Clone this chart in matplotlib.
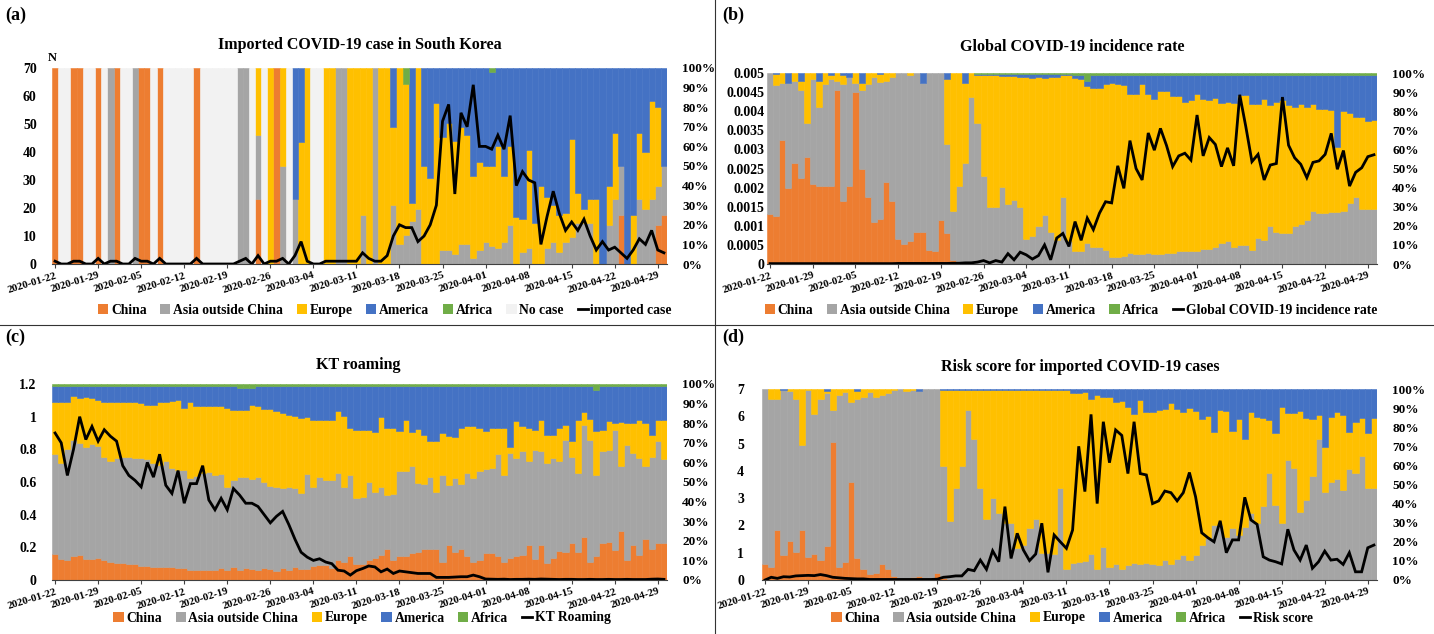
import numpy as np
import matplotlib
matplotlib.use('Agg')
import matplotlib.pyplot as plt
from matplotlib.patches import Patch
from matplotlib.lines import Line2D

plt.rcParams['font.family'] = 'Liberation Serif'
plt.rcParams['font.weight'] = 'bold'

COLORS = {'China': '#ED7D31', 'Asia outside China': '#A5A5A5', 'Europe': '#FFC000',
          'America': '#4472C4', 'Africa': '#70AD47', 'No case': '#F2F2F2'}

# 100 days, 2020-01-22 .. 2020-04-30
days = np.arange(100)
date_labels = ['2020-01-22', '2020-01-29', '2020-02-05', '2020-02-12', '2020-02-19',
               '2020-02-26', '2020-03-04', '2020-03-11', '2020-03-18', '2020-03-25',
               '2020-04-01', '2020-04-08', '2020-04-15', '2020-04-22', '2020-04-29']

# ---------------- (a) imported cases, share by origin (%) ----------------
china_a = [100, 0, 0, 100, 100, 0, 0, 100, 0, 0,
           100, 0, 0, 0, 100, 100, 0, 100, 0, 0,
           0, 0, 0, 100, 0, 0, 0, 0, 0, 0,
           0, 0, 0, 33, 0, 0, 100, 0, 0, 0] + [0] * 50 + \
          [0, 0, 25, 0, 0, 0, 0, 0, 20, 25]
asia_a = [0, 0, 0, 0, 0, 0, 0, 0, 0, 100,
          0, 0, 0, 100, 0, 0, 0, 0, 0, 0,
          0, 0, 0, 0, 0, 0, 0, 0, 0, 0,
          100, 100, 0, 33, 0, 0, 0, 50, 0, 33,
          0, 0, 0, 0, 0, 0, 100, 100, 0, 0,
          25, 0, 100, 0, 0, 30, 10, 15, 22, 28,
          0, 0, 0, 7, 7, 5, 10, 10, 3, 7,
          11, 9, 8, 11, 20, 0, 6, 8, 0, 0,
          8, 11, 6, 11, 14, 21, 21, 21, 0, 0,
          20, 33, 25, 0, 0, 33, 28, 33, 20, 25]
europe_a = [0] * 30 + \
           [0, 0, 0, 34, 0, 100, 0, 50, 0, 0,
            62, 100, 0, 0, 100, 100, 0, 0, 100, 100,
            75, 100, 0, 100, 100, 40, 90, 77, 9, 72,
            50, 44, 82, 58, 65, 58, 60, 56, 42, 45,
            39, 41, 52, 34, 40, 24, 17, 50, 21, 40,
            26, 19, 19, 15, 50, 15, 7, 12, 33, 0,
            20, 34, 0, 0, 25, 34, 29, 50, 40, 0]
america_a = [0] * 30 + \
            [0, 0, 0, 0, 0, 0, 0, 0, 0, 67,
             38, 0, 0, 0, 0, 0, 0, 0, 0, 0,
             0, 0, 0, 0, 0, 30, 0, 0, 69, 0,
             50, 56, 18, 35, 28, 37, 30, 34, 55, 48,
             50, 48, 40, 55, 40, 76, 77, 42, 79, 60,
             66, 70, 75, 74, 36, 64, 72, 67, 67, 100,
             60, 33, 50, 100, 75, 33, 43, 17, 20, 50]
africa_a = [0] * 50 + [0, 0, 0, 0, 0, 0, 0, 8, 0, 0] + [0] * 10 + \
           [0, 2, 0, 0, 0, 0, 0, 0, 0, 0] + [0] * 20
nocase_a = [0, 100, 100, 0, 0, 100, 100, 0, 100, 0,
            0, 100, 100, 0, 0, 0, 100, 0, 100, 100,
            100, 100, 100, 0, 100, 100, 100, 100, 100, 100,
            0, 0, 100, 0, 100, 0, 0, 0, 100, 0,
            0, 0, 100, 100, 0, 0, 0, 0, 0, 0] + [0] * 50
imported_a = [1, 0, 0, 1, 1, 0, 0, 2, 0, 1,
              1, 0, 0, 2, 1, 1, 0, 2, 0, 0,
              0, 0, 0, 2, 0, 0, 0, 0, 0, 0,
              1, 2, 0, 3, 0, 1, 1, 2, 0, 3,
              8, 1, 0, 0, 1, 1, 1, 1, 1, 1,
              4, 2, 1, 1, 3, 10, 14, 13, 13, 8,
              10, 14, 21, 51, 57, 25, 54, 49, 64, 42,
              42, 41, 46, 41, 53, 28, 33, 30, 29, 7,
              17, 26, 18, 12, 15, 12, 16, 10, 5, 8,
              5, 6, 4, 2, 5, 9, 7, 12, 5, 4]

# ---------------- (b) global incidence, cumulative tops of each region (%) ----------------
china_top_b = [26, 25, 65, 40, 53, 45, 56, 42, 41, 41,
               41, 91, 33, 41, 90, 50, 35, 22, 23.5, 43,
               33, 13, 10.4, 12, 16.5, 16.5, 7.5, 6.6, 23, 16,
               2] + [0] * 69
asia_top_b = [100, 93.5, 95, 95, 96, 91, 74, 97, 82, 94,
              97, 96, 94, 98, 95, 91, 94, 98, 95.5, 96,
              98, 100, 100, 99, 100, 95, 100, 100, 100, 63,
              28, 41, 53, 87.5, 74, 46, 30, 30, 40.5, 31.5,
              33.5, 30, 13, 14.5, 19.7, 25.4, 17, 12.7, 35, 12,
              6.6, 6.6, 11, 9, 9, 7.5, 3.6, 3.6, 4, 5.7,
              5.4, 5.4, 6, 5.4, 5.4, 6, 6, 6.6, 6.6, 6.6,
              7, 7.8, 7.8, 9, 11, 12, 9, 10, 10, 7.5,
              13.5, 12.7, 20, 17, 16, 16, 20, 21, 23, 27.5,
              26.6, 26.6, 27, 27, 28, 32, 35, 29, 29, 29]
europe_top_b = [100, 99.5, 100, 95, 100, 96, 100, 100, 96, 100,
                99, 100, 99, 98, 100, 95, 100, 100, 99.5, 100,
                100, 100, 100, 100, 100, 95, 100, 100, 100, 97,
                100, 100, 95, 100, 99, 99, 99, 99, 98.5, 98.5,
                98.5, 98, 98, 97.5, 97.7, 97.4, 98, 97.7, 98.8, 98.8,
                97.5, 97, 93, 92, 92, 94.5, 95, 94, 93.5, 89,
                89, 94, 89, 86.6, 90.6, 90.6, 88, 88, 85, 85.7,
                89, 86.6, 85.7, 87, 84.5, 85, 84.5, 88.7, 88.7, 83.6,
                84, 86.6, 83, 85, 85.7, 83, 82, 84, 82, 84,
                81.4, 81.4, 80.5, 61, 80, 79, 77, 77, 75, 75.6]
america_top_b = [100] * 34 + [99.7] * 16 + [99, 99, 96] + [99] * 47
incidence_b = [0.1e-4] * 21 + [0.15e-4] * 9 + \
              [0.2e-4, 0.2e-4, 0.3e-4, 0.3e-4, 0.5e-4, 0.9e-4, 0.3e-4, 0.9e-4, 0.5e-4, 2.7e-4,
               1.1e-4, 3.1e-4, 2.4e-4, 1.3e-4, 2.2e-4, 5.0e-4, 1.1e-4, 6.8e-4, 8.0e-4, 4.6e-4,
               11.1e-4, 6.2e-4, 12e-4, 9e-4, 13.3e-4, 16.3e-4, 16e-4, 25.7e-4, 19.8e-4, 32.3e-4,
               25e-4, 22e-4, 34.3e-4, 29.8e-4, 35.5e-4, 31e-4, 25.5e-4, 28.3e-4, 29e-4, 27.2e-4,
               39e-4, 28.3e-4, 33.1e-4, 31.3e-4, 25.5e-4, 30.4e-4, 25.7e-4, 44.3e-4, 35.9e-4, 26.8e-4,
               28.7e-4, 22e-4, 25.9e-4, 26.3e-4, 43.7e-4, 31.1e-4, 27.8e-4, 26.1e-4, 22.6e-4, 26.6e-4,
               27e-4, 28.7e-4, 34.2e-4, 24.8e-4, 29.7e-4, 20.4e-4, 24e-4, 25.2e-4, 28.1e-4, 28.6e-4]

# ---------------- (c) KT roaming, cumulative tops (%) ----------------
china_top_c = [13.3, 10.7, 10, 12, 13, 10.5, 10.5, 11, 10, 9,
               8.5, 8.5, 8, 8, 7, 7, 6.5, 6.5, 6.5, 6.8,
               6, 6, 5, 5, 5, 5, 5, 6, 5, 6.5,
               5, 6, 5.5, 5, 6, 5.5, 4.5, 6, 5, 6.5,
               5.5, 5.5, 7, 7.7, 7.7, 6, 10, 9, 12, 8,
               8, 10, 11, 12.8, 16, 10, 12, 12.3, 13.6, 14.5,
               15.7, 16, 16, 9.4, 18, 14.5, 16, 12, 9.4, 10,
               13.6, 14, 12, 9.4, 11, 12, 12.8, 18, 10.6, 18,
               8.9, 11, 15, 14.5, 19, 14.5, 22, 9.4, 12, 18.7,
               19.6, 15.3, 25, 10, 18, 12.8, 20.8, 16, 18.7, 19]
asia_top_c = [64.4, 59.6, 66.8, 71.6, 70, 68, 69.5, 68.5, 63, 60.5,
              62, 63, 62.7, 62, 62, 61.7, 59.6, 58.8, 60.5, 57,
              56, 56, 52, 53, 54.5, 55, 53.7, 54, 47.7, 50.8,
              52.5, 52.5, 51.5, 52.5, 50, 48, 47.7, 46.8, 47.4, 47,
              44.3, 54, 47.7, 52.5, 51, 51, 54.5, 47.7, 53.7, 41.7,
              42.6, 50, 45, 47.7, 43.4, 44, 55.4, 55.4, 58, 49.7,
              49, 52.8, 45, 53.7, 48.5, 51.8, 49, 54.5, 52, 55.4,
              56.7, 57, 64.4, 53.7, 64.7, 62, 65.6, 60.5, 66.4, 66,
              59.6, 62, 60.5, 71.6, 63, 54.5, 79, 71.6, 53.7, 65.6,
              66.4, 76.7, 58, 69, 65, 62, 58, 63, 70.7, 61.7]
europe_top_c = [91, 91, 91, 93.7, 92.8, 93.4, 93, 92, 90.6, 90.6,
                90.6, 90.6, 90.6, 90.6, 90.3, 89.4, 89.4, 90.6, 90.6, 91.5,
                92, 88, 90.6, 88.6, 89, 89, 88.6, 88.6, 87.7, 86.9,
                86.9, 86.9, 89.4, 88.6, 87.2, 87.2, 86, 85.2, 84.3, 83.5,
                82.6, 83, 81.8, 81.8, 81.4, 81.4, 86, 83.5, 77.5, 76.7,
                76.7, 76.7, 75.3, 83, 77.5, 77.5, 75.8, 81.4, 75.3, 77,
                74, 70.7, 70.7, 75, 73.6, 73, 77.5, 78.7, 78.7, 77.5,
                75.8, 77.5, 77.5, 77.5, 67.8, 81.3, 78.4, 77.5, 76.7, 81.8,
                74, 74, 77.5, 79.2, 70.7, 81.8, 85.5, 82, 76, 76.7,
                81, 80, 80.6, 80, 80, 81.4, 80, 74, 81.8, 81.8]
america_top_c = [99] * 30 + [98, 98, 98] + [99] * 55 + [97] + [99] * 11
roaming_c = [0.90, 0.84, 0.64, 0.80, 1.00, 0.86, 0.94, 0.85, 0.92, 0.88,
             0.85, 0.70, 0.64, 0.61, 0.57, 0.72, 0.63, 0.77, 0.58, 0.53,
             0.67, 0.47, 0.59, 0.59, 0.70, 0.49, 0.43, 0.50, 0.43, 0.56,
             0.52, 0.47, 0.47, 0.45, 0.40, 0.35, 0.39, 0.42, 0.34, 0.25,
             0.17, 0.14, 0.12, 0.13, 0.11, 0.10, 0.06, 0.055, 0.03, 0.057,
             0.07, 0.086, 0.08, 0.05, 0.067, 0.04, 0.055, 0.05, 0.045, 0.04,
             0.04, 0.04, 0.016, 0.016, 0.016, 0.018, 0.02, 0.02, 0.03, 0.02,
             0.006, 0.005, 0.004, 0.005, 0.003, 0.004, 0.004, 0.005, 0.004, 0.006,
             0.005, 0.004, 0.003, 0.004, 0.004, 0.003, 0.003, 0.004, 0.003, 0.003,
             0.004, 0.003, 0.003, 0.004, 0.003, 0.003, 0.003, 0.005, 0.006, 0.004]

# ---------------- (d) risk score, cumulative tops (%) ----------------
china_top_d = [8.4, 6.6, 26, 13, 20.4, 14.5, 26, 12.2, 13.4, 10.5,
               17.8, 72.4, 7, 9.4, 51.5, 11.7, 6, 3.1, 3.8, 8.4,
               5.6, 2, 1, 1, 1.7, 2, 1, 1, 3.8, 1] + [0] * 70
asia_top_d = [100, 95, 95, 99.5, 99, 95, 70.7, 99.5, 87, 95,
              97.7, 89, 96.9, 98.6, 93.4, 95, 96, 98.6, 96, 96.9,
              98, 99.5, 100, 99, 99.7, 99, 100, 100, 100, 59.7,
              31, 48.3, 59.7, 89, 74, 48.3, 32, 42.8, 35, 30,
              30, 16.6, 18.3, 27, 31.8, 14.3, 14, 13.4, 48, 6,
              8.7, 9.6, 10, 13.4, 6, 17.5, 7, 8.4, 5.6, 7.9,
              8.7, 8.4, 9, 8.4, 7.9, 10.5, 8.4, 10.8, 13, 10.5,
              13, 18.3, 21.8, 28.8, 28.8, 22.7, 27, 23.6, 28, 35,
              29.7, 39, 56, 39.3, 29.7, 63, 58.5, 35.8, 42, 54.5,
              73.6, 46.2, 51.5, 52.7, 47, 58, 55.8, 65, 48, 48]
europe_top_d = [100, 100, 100, 99.5, 100, 100, 100, 100, 100, 100,
                99, 100, 100, 100, 100, 99, 100, 100, 100, 100,
                100, 100, 100, 100, 100, 99, 100, 100, 100, 99.3] + [99.3] * 20 + \
               [98, 97.7, 98.6, 94.6, 96.9, 96, 95.6, 93.4, 93.9, 90.8,
                86.7, 94.2, 87.8, 88.1, 89, 89.4, 92.5, 89.4, 88.1, 89.9,
                88.7, 84.1, 85.9, 77.3, 89, 88.7, 78, 84.1, 73.6, 88.1,
                85.2, 85, 83.8, 77.1, 90.8, 87.3, 87.3, 88.7, 84.6, 84.3,
                86.4, 69.5, 85.5, 88.1, 86.4, 77.7, 82.9, 84.6, 77, 84.6]
america_top_d = [100] * 100
risk_d = [0, 0.1, 0.06, 0.12, 0.11, 0.15, 0.16, 0.17, 0.16, 0.2,
          0.16, 0.1, 0.08, 0.06, 0.05, 0.04, 0.04, 0.02, 0.02, 0.02,
          0.02, 0.02, 0.02, 0.02, 0.02, 0.02, 0.02, 0.02, 0.03, 0.1,
          0.12, 0.15, 0.15, 0.39, 0.34, 0.73, 0.39, 1.07, 0.67, 2.69,
          0.79, 1.71, 1.1, 0.71, 0.95, 2.08, 0.28, 1.65, 1.4, 1.16,
          1.83, 4.9, 3.24, 6.07, 2.8, 5.8, 4.3, 5.5, 5.3, 3.9,
          5.8, 3.9, 3.85, 2.8, 2.9, 3.26, 3.2, 2.9, 3.2, 3.94,
          3.05, 1.73, 1.55, 1.4, 2.17, 1.0, 1.47, 1.47, 3.03, 2.2,
          2.04, 0.85, 0.73, 0.67, 0.59, 1.86, 1.1, 0.73, 1.28, 0.43,
          0.67, 1.06, 0.73, 0.76, 0.57, 1.0, 0.3, 0.3, 1.18, 1.28]

REGIONS = ['China', 'Asia outside China', 'Europe', 'America', 'Africa']


def shares_from_tops(*tops):
    """cumulative region tops -> per-region shares, last one runs to 100%"""
    stack = np.vstack([np.zeros(100)] + [np.asarray(t, float) for t in tops] + [np.full(100, 100.0)])
    return list(zip(REGIONS, np.clip(np.diff(stack, axis=0), 0, None)))


W, H = 1434, 634
fig = plt.figure(figsize=(W / 100, H / 100), dpi=100)


def draw_panel(box, shares, line_vals, ylim, lticks, llabels, lpad):
    # box in pixels: left, top, right, bottom
    l, t, r, b = box
    ax = fig.add_axes([l / W, 1 - b / H, (r - l) / W, (b - t) / H])
    ax2 = ax.twinx()
    bottom = np.zeros(100)
    for name, vals in shares:
        vals = np.asarray(vals, float)
        m = vals > 0
        ax.bar(days[m], vals[m], width=1.0, bottom=bottom[m], color=COLORS[name],
               edgecolor=COLORS[name], linewidth=0.4)
        bottom += vals
    ax.set_xlim(-0.5, 99.5)
    ax.set_ylim(0, 100)
    ax.yaxis.tick_right()
    ax.set_yticks(range(0, 101, 10))
    ax.set_yticklabels([f'{v}%' for v in range(0, 101, 10)])
    ax.tick_params(axis='y', length=0, pad=11, labelsize=9.5)
    ax.set_xticks(days[::7])
    ax.set_xticklabels(date_labels, rotation=17, ha='right', rotation_mode='anchor', fontsize=7.8)
    ax.tick_params(axis='x', length=3, width=0.8, color='#404040', pad=2)
    for s in ['top', 'left', 'right']:
        ax.spines[s].set_visible(False)
    ax.spines['bottom'].set_color('#404040')

    ax2.plot(days, line_vals, color='black', lw=2, solid_joinstyle='miter')
    ax2.set_ylim(*ylim)
    ax2.yaxis.tick_left()
    ax2.set_yticks(lticks)
    ax2.set_yticklabels(llabels)
    ax2.tick_params(axis='y', length=0, pad=lpad, labelsize=10)
    for s in ax2.spines.values():
        s.set_visible(False)
    return ax


def add_legend(names, line_label, cx, cy):
    handles = [Patch(facecolor=COLORS[n], label=n) for n in names]
    handles.append(Line2D([], [], color='black', lw=2, label=line_label))
    fig.legend(handles=handles, loc='center', bbox_to_anchor=(cx / W, 1 - cy / H),
               ncol=len(handles), frameon=False, fontsize=9.8, handlelength=0.75,
               handleheight=0.75, handletextpad=0.2, columnspacing=1.0, borderaxespad=0)


# (a)
shares_a = list(zip(REGIONS + ['No case'], [china_a, asia_a, europe_a, america_a, africa_a, nocase_a]))
draw_panel((52, 68, 667, 264), shares_a, imported_a, (0, 70),
           range(0, 71, 10), [str(v) for v in range(0, 71, 10)], 11)
fig.text(52 / W, 1 - 58 / H, 'N', ha='center', va='center', fontsize=9)
add_legend(REGIONS + ['No case'], 'imported case', 385, 310)

# (b)
b_ticks = [i * 0.0005 for i in range(11)]
b_labels = ['0', '0.0005', '0.001', '0.0015', '0.002', '0.0025', '0.003', '0.0035',
            '0.004', '0.0045', '0.005']
draw_panel((767, 73, 1377, 264), shares_from_tops(china_top_b, asia_top_b, europe_top_b, america_top_b),
           incidence_b, (0, 0.005), b_ticks, b_labels, 2)
add_legend(REGIONS, 'Global COVID-19 incidence rate', 1071, 310)

# (c)
c_ticks = [0, 0.2, 0.4, 0.6, 0.8, 1.0, 1.2]
draw_panel((52, 384, 667, 580), shares_from_tops(china_top_c, asia_top_c, europe_top_c, america_top_c),
           roaming_c, (0, 1.2), c_ticks, ['0', '0.2', '0.4', '0.6', '0.8', '1', '1.2'], 11)
add_legend(REGIONS, 'KT Roaming', 362, 618)

# (d)
draw_panel((762, 389, 1377, 580), shares_from_tops(china_top_d, asia_top_d, europe_top_d, america_top_d),
           risk_d, (0, 7), range(0, 8), [str(v) for v in range(0, 8)], 13)
add_legend(REGIONS, 'Risk score', 1072, 618)

# titles and panel letters
fig.text(360 / W, 1 - 45 / H, 'Imported COVID-19 case in South Korea', ha='center', va='center', fontsize=11.5)
fig.text(1072 / W, 1 - 47 / H, 'Global COVID-19 incidence rate', ha='center', va='center', fontsize=11.5)
fig.text(358 / W, 1 - 365 / H, 'KT roaming', ha='center', va='center', fontsize=11.5)
fig.text(1080 / W, 1 - 367 / H, 'Risk score for imported COVID-19 cases', ha='center', va='center', fontsize=11.5)
for lab, x, y in [('(a)', 5, 15), ('(b)', 722, 15), ('(c)', 5, 337), ('(d)', 722, 337)]:
    fig.text(x / W, 1 - y / H, lab, ha='left', va='center', fontsize=13)

# panel dividers
fig.add_artist(Line2D([715 / W, 715 / W], [0, 1], color='#333333', lw=0.8))
fig.add_artist(Line2D([0, 1], [1 - 325 / H, 1 - 325 / H], color='#333333', lw=0.8))

fig.savefig('out.png', dpi=100)
